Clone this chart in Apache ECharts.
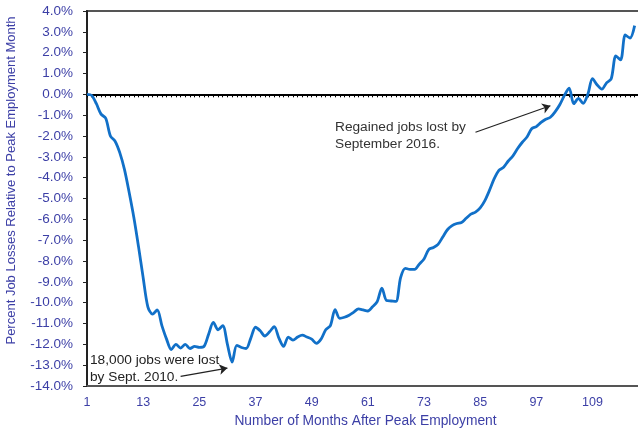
<!DOCTYPE html>
<html>
<head>
<meta charset="utf-8">
<script src="https://cdn.jsdelivr.net/npm/echarts@6/dist/echarts.min.js"></script>
<style>
html,body{margin:0;padding:0;background:#fff;}
#chart{width:638px;height:428px;}
</style>
</head>
<body>
<div id="chart"></div>
<script>
var months = [];
for (var i = 1; i <= 120; i++) months.push(String(i));

var jobLossPct = [
  0, -0.05, -0.45, -0.95, -1.15, -2.0, -2.25, -2.8, -3.6, -4.7,
  -5.9, -7.3, -8.8, -10.2, -10.55, -10.35, -11.1, -11.75, -12.25, -12.0,
  -12.18, -12.0, -12.2, -12.1, -12.15, -12.1, -11.5, -10.95, -11.3, -11.1,
  -12.0, -12.85, -12.05, -12.15, -12.2, -11.7, -11.18, -11.35, -11.6, -11.4,
  -11.15, -11.7, -12.1, -11.65, -11.8, -11.65, -11.56, -11.65, -11.75, -11.95,
  -11.75, -11.3, -11.1, -10.33, -10.75, -10.7, -10.6, -10.45, -10.3, -10.35,
  -10.4, -10.2, -9.95, -9.3, -9.9, -9.92, -9.94, -8.8, -8.35, -8.4,
  -8.4, -8.15, -7.9, -7.45, -7.35, -7.2, -6.85, -6.5, -6.3, -6.2,
  -6.15, -5.95, -5.75, -5.65, -5.45, -5.1, -4.6, -4.05, -3.65, -3.5,
  -3.2, -2.95, -2.6, -2.3, -2.05, -1.65, -1.55, -1.35, -1.2, -1.1,
  -0.84, -0.5, -0.05, 0.3, -0.45, -0.2, -0.43, 0.0, 0.75, 0.45,
  0.25, 0.55, 0.75, 1.85, 1.65, 2.85, 2.7, 3.3
];

var yMin = -14, yMax = 4, yStep = 1;

var note1 = ['Regained jobs lost by', 'September 2016.'];
var note2 = ['18,000 jobs were lost', 'by Sept. 2010.'];
var arrow1 = [['84', -1.82], ['100', -0.55]];
var arrow2 = [['21', -13.54], ['31', -13.14]];

var blue = '#3c3fa6';
var font = 'Liberation Sans, Arial, sans-serif';
var chart = echarts.init(document.getElementById('chart'), null, {renderer: 'canvas'});
chart.setOption({
  animation: false,
  backgroundColor: '#fff',
  textStyle: {fontFamily: font},
  grid: {left: 87, top: 11, right: -6, bottom: 42, containLabel: false, outerBoundsMode: 'none',
         show: true, borderColor: '#555', borderWidth: 2, backgroundColor: 'transparent'},
  xAxis: [{
    type: 'category',
    data: months,
    boundaryGap: false,
    position: 'bottom',
    axisLine: {onZero: false, lineStyle: {color: '#555', width: 2}},
    axisTick: {show: false},
    axisLabel: {interval: 11, color: blue, fontSize: 12.5, margin: 10},
    name: 'Number of Months After Peak Employment',
    nameLocation: 'middle',
    nameGap: 27,
    nameTextStyle: {color: blue, fontSize: 13.8}
  }, {
    type: 'category',
    data: months,
    boundaryGap: false,
    position: 'bottom',
    axisLine: {onZero: true, lineStyle: {color: '#000', width: 2}},
    axisTick: {show: true, interval: 0, length: 3, lineStyle: {color: '#000', width: 1}},
    axisLabel: {show: false}
  }],
  yAxis: {
    type: 'value',
    min: yMin, max: yMax, interval: yStep,
    axisLine: {show: true, lineStyle: {color: '#222', width: 2}},
    axisTick: {show: true, length: 4, lineStyle: {color: '#222'}},
    splitLine: {show: false},
    axisLabel: {color: blue, fontSize: 13.5, margin: 14, formatter: function (v) { return v.toFixed(1) + '%'; }},
    name: 'Percent Job Losses Relative to Peak Employment Month',
    nameLocation: 'middle',
    nameGap: 69,
    nameTextStyle: {color: blue, fontSize: 13, padding: [0, 0, 0, 36]}
  },
  series: [{
    type: 'line',
    xAxisIndex: 0,
    data: jobLossPct,
    smooth: 0.3,
    symbol: 'none',
    lineStyle: {color: '#1170c8', width: 2.8},
    markLine: {
      silent: true,
      symbol: ['none', 'arrow'],
      symbolSize: 8,
      lineStyle: {color: '#222', width: 1.2, type: 'solid'},
      itemStyle: {color: '#222'},
      label: {show: false},
      data: [
        [{coord: arrow1[0]}, {coord: arrow1[1]}],
        [{coord: arrow2[0]}, {coord: arrow2[1]}]
      ]
    }
  }],
  graphic: [
    {type: 'text', left: 335, top: 119, style: {text: note1.join('\n'), fill: '#333', font: '13.7px ' + font, lineHeight: 17}},
    {type: 'text', left: 90, top: 352, style: {text: note2.join('\n'), fill: '#222', font: '13.7px ' + font, lineHeight: 17}}
  ]
});
</script>
</body>
</html>
